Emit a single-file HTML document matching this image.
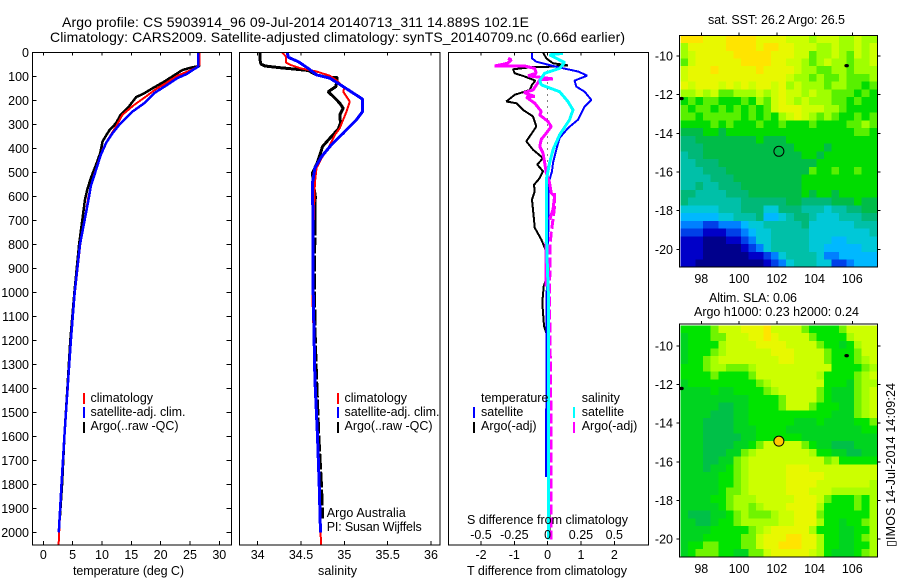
<!DOCTYPE html>
<html>
<head>
<meta charset="utf-8">
<title>Argo profile</title>
<style>
html,body{margin:0;padding:0;background:#fff;}
svg{display:block;}
text{font-family:"Liberation Sans",sans-serif;font-size:12.5px;fill:#000;}
.title{font-size:14px;}
</style>
</head>
<body>
<svg id="chart" xmlns="http://www.w3.org/2000/svg" width="900" height="580" viewBox="0 0 900 580">
<rect x="0" y="0" width="900" height="580" fill="#fff"/>
<text class="title" x="62" y="27" textLength="467">Argo profile: CS 5903914_96 09-Jul-2014 20140713_311 14.889S 102.1E</text>
<text class="title" x="50" y="42" textLength="575">Climatology: CARS2009. Satellite-adjusted climatology: synTS_20140709.nc (0.66d earlier)</text>

<g id="p1"></g>
<g id="p2"></g>
<g id="p3"></g>
<g id="m1"></g>
<g id="m2"></g>

<text x="73" y="575" textLength="111">temperature (deg C)</text>
<text x="318" y="575" textLength="39">salinity</text>
<text x="467" y="575" textLength="160">T difference from climatology</text>
<text x="467" y="524" textLength="161">S difference from climatology</text>

<g>
<rect x="83" y="393" width="2" height="11" fill="#f00"/>
<rect x="83" y="407" width="2" height="11" fill="#00f"/>
<rect x="83" y="422" width="2" height="11" fill="#000"/>
<text x="90.5" y="402">climatology</text>
<text x="90.5" y="416" textLength="95">satellite-adj. clim.</text>
<text x="90.5" y="430" textLength="88">Argo(..raw -QC)</text>
</g>
<g>
<rect x="337" y="393" width="2" height="11" fill="#f00"/>
<rect x="337" y="407" width="2" height="11" fill="#00f"/>
<rect x="337" y="422" width="2" height="11" fill="#000"/>
<text x="344.5" y="402">climatology</text>
<text x="344.5" y="416" textLength="95">satellite-adj. clim.</text>
<text x="344.5" y="430" textLength="88">Argo(..raw -QC)</text>
</g>
<text x="326.7" y="517" textLength="79">Argo Australia</text>
<text x="326.7" y="531" textLength="95">PI: Susan Wijffels</text>
<g>
<text x="481" y="402">temperature</text>
<text x="581.7" y="402">salinity</text>
<rect x="473" y="407" width="2" height="11" fill="#00f"/>
<rect x="473" y="422" width="2" height="11" fill="#000"/>
<rect x="573" y="407" width="2" height="11" fill="#0ff"/>
<rect x="573" y="422" width="2" height="11" fill="#f0f"/>
<text x="481" y="416">satellite</text>
<text x="481" y="430">Argo(-adj)</text>
<text x="581.7" y="416">satellite</text>
<text x="581.7" y="430">Argo(-adj)</text>
</g>
<text x="708" y="24" textLength="137">sat. SST: 26.2 Argo: 26.5</text>
<text x="709" y="302" textLength="88">Altim. SLA: 0.06</text>
<text x="694" y="316" textLength="165">Argo h1000: 0.23 h2000: 0.24</text>
<text transform="translate(895 547) rotate(-90)" x="0" y="0" textLength="164">▯IMOS 14-Jul-2014 14:09:24</text>
</svg>
<script>
// ---------- axis ticks ----------
const depthTicks = [0,100,200,300,400,500,600,700,800,900,1000,1100,1200,1300,1400,1500,1600,1700,1800,1900,2000];
const tempTicks = [0,5,10,15,20,25,30];
const salTicks = [34,34.5,35,35.5,36];
const salTickLabels = ['34','34.5','35','35.5','36'];
const tDiffTicks = [-2,-1,0,1,2];
const sDiffTicks = [-0.5,-0.25,0,0.25,0.5];
const sDiffLabels = ['-0.5','-0.25','0','0.25','0.5'];
const lonTicks = [98,100,102,104,106];
const latTicks = [-10,-12,-14,-16,-18,-20];

// ---------- temperature profiles ----------
const climTempDepth = [0,53,66,78,98,129,154,184,219,260,309,364,406,461,530,600,800,1000,1200,1400,1600,1800,2052];
const climTemp = [26.6,26.6,25.9,24.8,22.8,20.85,19.15,17.5,15.5,13.5,12.4,11,10.1,9.3,8.4,7.7,6.3,5.4,4.7,4.2,3.6,3.1,2.6];
const satTempDepth = [0,60,71,90,108,140,170,212,247,295,337,378,427,489,558,614,800,1000,1200,1400,1600,1800,2000];
const satTemp = [26.4,26.4,25.65,24.5,22.8,20.85,18.9,17.2,15.2,13.2,11.8,10.7,9.8,9,8.1,7.7,6.25,5.35,4.7,4.15,3.6,3.1,2.65];
const argoTempDepth = [0,57,64,74,96,122,146,171,187,226,260,295,327,371,420,468,524,572,613,800,1000,1200,1400,1600,1800,1950];
const argoTemp = [26.6,26.6,25.1,23.7,22.3,20.6,18.9,17.2,15.8,14.6,13.2,12.4,11.2,10.1,9.7,9.0,8.1,7.5,7.1,6.1,5.3,4.6,4.1,3.6,3.2,2.8];

// ---------- salinity profiles ----------
const climSalDepth = [1,18,43,54,68,80,98,122,150,164,205,247,281,316,344,399,441,482,544,669,1000,1400,1700,2052];
const climSal = [34.284,34.326,34.326,34.391,34.507,34.68,34.833,34.929,34.998,34.987,35.063,35.025,34.987,34.948,34.891,34.814,34.737,34.679,34.66,34.649,34.63,34.665,34.7,34.73];
const satSalDepth = [1,21,39,67,94,108,143,170,195,247,281,337,385,434,482,544,600,697,1000,1361,1600,1800,2000];
const satSal = [34.342,34.353,34.468,34.583,34.68,34.833,34.987,35.102,35.209,35.209,35.14,34.987,34.852,34.737,34.66,34.633,34.633,34.641,34.64,34.66,34.69,34.71,34.725];
const argoSalDepth = [1,32,49,57,64,71,76,94,104,105,143,164,184,212,233,261,295,320,358,392,427,461,503,544,600,697];
const argoSal = [34.027,34.027,34.038,34.084,34.257,34.449,34.583,34.68,34.795,34.918,34.902,34.814,34.871,34.948,34.987,34.948,34.956,34.929,34.833,34.749,34.718,34.687,34.633,34.641,34.665,34.66];
const argoSalDeepDepth = [697,1000,1200,1361,1600,1800,1943];
const argoSalDeep = [34.66,34.655,34.665,34.68,34.705,34.735,34.75];

// ---------- difference profiles ----------
const argoTDiffDepth = [1,25,46,54,60,62,71,87,101,118,136,157,177,205,212,240,267,309,344,371,406,441,468,496,524,552,579,614,697,731,780,814,849,918,974,1043,1140,1170,1400,1900,2000];
const argoTDiff = [-0.14,-0.04,0.16,0.61,0.11,-0.49,-1.04,-0.99,-0.69,-0.37,-0.47,-0.54,-0.99,-1.24,-0.94,-0.74,-0.44,-0.34,-0.51,-0.64,-0.44,-0.14,-0.31,-0.14,-0.24,-0.41,-0.39,-0.47,-0.41,-0.39,-0.19,-0.09,0,0.03,-0.12,-0.16,-0.11,-0.04,-0.02,0.05,0.05];
const satTDiffDepth = [1,25,39,62,80,97,118,143,164,198,226,281,316,357,406,461,496,544,697,850,1000,1770];
const satTDiff = [-0.47,-0.47,-0.34,0.31,0.91,1.19,0.81,0.86,1.11,1.31,1.11,0.91,0.61,0.36,0.26,0.16,0.13,0.03,0.03,0,-0.03,-0.05];
const satSDiffDepth = [4,11,25,43,67,87,118,136,164,205,240,281,344,406,461,531,697,850,1000,1500,2030];
const satSDiff = [0.115,0.015,0.065,0.127,0.09,-0.022,-0.06,-0.047,0.09,0.152,0.19,0.165,0.09,0.04,0.015,-0.01,-0.01,-0.005,0.005,0.005,0.005];
const argoSDiffDepth = [25,32,46,57,57,67,87,98,111,115,126,157,168,184,187,212,247,261,288,309,337,362,392,420,461,503,544,586,600,655,697];
const argoSDiff = [-0.297,-0.272,-0.302,-0.397,-0.172,-0.097,-0.085,-0.147,0.04,-0.06,-0.072,-0.11,-0.177,-0.097,-0.16,-0.097,-0.047,-0.06,0.002,0.027,-0.01,-0.047,-0.06,-0.035,-0.022,-0.01,0.015,0.027,0.052,0.04,0.015];
const argoSDeepDepth = [586,641,697,752,807,1084,1278,1600,2030];
const argoSDeep = [0.052,0.052,0.04,0.027,0.017,0.015,0.02,0.027,0.027];
const argoSMidDepth = [790,975];
const argoSMid = [-0.015,-0.015];

// ---------- map grids: 0.4 degree cells, one character per cell (colour level) ----------
const sstRows = [
"eeedddeeeeddddcccbcccbbcbb",
"bdddddeeeedeeddcccbbcbbcbc",
"bcdddddeeeeedddccabbcbacbc",
"acddddddeeeeddccbabcbbabbc",
"cdddedddddeddddcbbaabbabbb",
"cdddddddddddddcbbabaabaaab",
"dcdddcdcdcddcdbcbbbabbaa9a",
"bbcbcaabbbcbcdccbcbbaaa9a9",
"9a9aa999a9bacdcbcbbbaa9a99",
"a9aa9a9a9a9acdddcccbba9999",
"aa9aaaaa9a9a9bcdcbaba99a9a",
"9999a9a999a99a999a9999aaba",
"88899899999999999999999aa9",
"77888888889888999999999999",
"77788888888888899998999999",
"67788888888888889989999999",
"66777888888888888899999999",
"66677788888888888a99a99a99",
"66667778888888889999999999",
"66766777888888889999999999",
"77666677788888889899899999",
"76666666777777887777888988",
"55555666777557776665667788",
"44444556667445677655566677",
"33322333455666667555555666",
"22211122345566666555555556",
"11100011235566666555445555",
"11100000123566666554444455",
"11100000011235666653344444",
"11000000000123566655223444"
];
const slaRows = [
"9999acccdddecccca9999acccc",
"8999aacccddedcccca9999bccc",
"89999bccccddddcccca9989bcc",
"8999abccccccdddcccca999acc",
"899abccccccccddcccca999abc",
"999abbaaabcccccccccc9999ab",
"9999a9999accccccccb9999abc",
"8999999999abccccccc9998abb",
"88889889999abccccca9888abc",
"8888888889999acccca9888abc",
"8888877889999accca99988abc",
"88887778899999999999888abc",
"8887777889999998889888899a",
"88877778889999888888888899",
"88877777889999998888888888",
"8887777889accccca988777888",
"88877788abcccccccb99887788",
"8887788abccccccccccab99999",
"8887889abcccccdddccccccccc",
"8888899abcccccdddddccccccc",
"8888899abcccccddddcccccccb",
"888889aabcccccdddcccbbbbbb",
"888899abbbcccccdddca999a9b",
"888889abbabcccddddb9999a9b",
"8777889abaaabccddda999999b",
"8877899abbbbbccdddb99899ab",
"888899999abcdddddb9998899b",
"88899999aacdddeeddb99889ab",
"899aa999aacddeeeddb998899b",
"89aaa9988aacdddddcb98889ab"
];
const colourLevels = "0123456789abcdef";
const sstColours = ["#00008c","#0000c8","#0040e8","#0080ff","#00b8ff","#00c8d8","#00c0a8","#00b878","#00bc48","#00dc00","#58f000","#a0ff00","#ccff00","#e8f800","#ffe400","#ffb000"];
const slaColours = ["#00008c","#0000c8","#0040e8","#0080ff","#00b8ff","#00c8d8","#00c0a8","#00c048","#00d420","#00e400","#70f400","#a8ff00","#ccff00","#e8f800","#ffe400","#ffb000"];
const argoLon = 102.1;
const argoLat = -14.889;
const islandLon = [105.7, 96.95];
const islandLat = [-10.5, -12.2];

// ---------- helpers ----------
const NS = 'http://www.w3.org/2000/svg';
function mk(tag, parent, name, attrs) {
  const el = document.createElementNS(NS, tag);
  for (const k in attrs) el.setAttribute(k, attrs[k]);
  
  
  parent.appendChild(el);
  return el;
}
function label(parent, name, str, x, y, anchor) {
  const t = mk('text', parent, name, {x: x, y: y, 'text-anchor': anchor});
  t.textContent = str;
  return t;
}
function linear(d0, d1, r0, r1) {
  return function (v) { return r0 + (v - d0) / (d1 - d0) * (r1 - r0); };
}
const TOP = 52.3, BOTTOM = 545;
const depthY = linear(0, 2000, 52.3, 532.3);
const P1 = {l: 32.3, r: 231.3};
const P2 = {l: 239.3, r: 440};
const P3 = {l: 448.3, r: 648.3};
const tempX = linear(0, 30, 43.3, 219.3);
const salX = linear(34, 36, 257.7, 431);
const tDiffX = linear(-2, 2, 481, 614.3);
const sDiffX = linear(-0.5, 0.5, 481, 614.3);

function frame(g, P, top, bottom) {
  mk('rect', g, 'plot-frame', {x: P.l, y: top, width: P.r - P.l, height: bottom - top, fill: 'none', stroke: '#000', 'stroke-width': 1, 'shape-rendering': 'crispEdges'});
}
function tick(g, name, x1, y1, x2, y2) {
  mk('line', g, name, {x1: x1, y1: y1, x2: x2, y2: y2, stroke: '#000', 'stroke-width': 1, 'shape-rendering': 'crispEdges'});
}
function xTicks(g, ticks, labels, sx, labelY) {
  ticks.forEach(function (v, i) {
    const x = sx(v);
    tick(g, 'x-tick', x, BOTTOM, x, BOTTOM - 4);
    tick(g, 'x-tick-top', x, TOP, x, TOP + 3);
    label(g, 'x-tick-label', labels[i], x, labelY, 'middle');
  });
}
function series(g, name, depths, vals, sx, colour, width, dash) {
  let d = '';
  depths.forEach(function (dep, i) {
    d += (i ? 'L' : 'M') + sx(vals[i]).toFixed(1) + ' ' + depthY(dep).toFixed(1);
  });
  const attrs = {d: d, fill: 'none', stroke: colour, 'stroke-width': width, 'stroke-linejoin': 'bevel', 'shape-rendering': 'crispEdges'};
  if (dash) attrs['stroke-dasharray'] = dash;
  mk('path', g, name, attrs);
}

// ---------- panel 1 ----------
const g1 = document.getElementById('p1');
series(g1, 'argo-temperature-line', argoTempDepth, argoTemp, tempX, '#000', 2.5);
series(g1, 'climatology-temperature-line', climTempDepth, climTemp, tempX, '#f00', 2);
series(g1, 'satellite-temperature-line', satTempDepth, satTemp, tempX, '#00f', 2.5);
frame(g1, P1, TOP, BOTTOM);
xTicks(g1, tempTicks, tempTicks.map(String), tempX, 559);
depthTicks.forEach(function (v) {
  const y = depthY(v);
  tick(g1, 'depth-tick-left', P1.l, y, P1.l + 4, y);
  tick(g1, 'depth-tick-right', P1.r, y, P1.r - 5, y);
  label(g1, 'depth-tick-label', String(v), 29, y + 4.5, 'end');
});

// ---------- panel 2 ----------
const g2 = document.getElementById('p2');
series(g2, 'argo-salinity-line', argoSalDepth, argoSal, salX, '#000', 3);
series(g2, 'argo-salinity-deep-line', argoSalDeepDepth, argoSalDeep, salX, '#000', 3, '16 2');
series(g2, 'climatology-salinity-line', climSalDepth, climSal, salX, '#f00', 2);
series(g2, 'satellite-salinity-line', satSalDepth, satSal, salX, '#00f', 3);
frame(g2, P2, TOP, BOTTOM);
xTicks(g2, salTicks, salTickLabels, salX, 559);

// ---------- panel 3 ----------
const g3 = document.getElementById('p3');
mk('line', g3, 'zero-reference-line', {x1: tDiffX(0), y1: TOP, x2: tDiffX(0), y2: BOTTOM, stroke: '#000', 'stroke-width': 1, 'stroke-dasharray': '1 5', 'shape-rendering': 'crispEdges'});
series(g3, 'argo-t-difference-line', argoTDiffDepth, argoTDiff, tDiffX, '#000', 2);
series(g3, 'satellite-t-difference-line', satTDiffDepth, satTDiff, tDiffX, '#00f', 2);
series(g3, 'argo-s-difference-line', argoSDiffDepth, argoSDiff, sDiffX, '#f0f', 3);
series(g3, 'argo-s-difference-deep-line', argoSDeepDepth, argoSDeep, sDiffX, '#f0f', 3, '10 3');
series(g3, 'argo-s-difference-mid-line', argoSMidDepth, argoSMid, sDiffX, '#f0f', 2);
series(g3, 'satellite-s-difference-line', satSDiffDepth, satSDiff, sDiffX, '#0ff', 3);
frame(g3, P3, TOP, BOTTOM);
xTicks(g3, tDiffTicks, tDiffTicks.map(String), tDiffX, 559);
sDiffTicks.forEach(function (v, i) {
  label(g3, 's-difference-tick-label', sDiffLabels[i], sDiffX(v), 539, 'middle');
});

// ---------- maps ----------
const lonX = linear(98, 106, 701.3, 852.3);
const LON0 = 96.9, CELL = 0.4, LAT0 = -8.93;
function drawMap(id, rows, colours, top, bottom, lat10Y, lat20Y, lonLabelY, markerFill) {
  const g = document.getElementById(id);
  const latY = linear(-10, -20, lat10Y, lat20Y);
  rows.forEach(function (row, r) {
    for (let c = 0; c < row.length; c++) {
      const x0 = lonX(LON0 + c * CELL), x1 = lonX(LON0 + (c + 1) * CELL);
      const y0 = latY(LAT0 - r * CELL), y1 = latY(LAT0 - (r + 1) * CELL);
      mk('rect', g, 'map-cell', {x: x0.toFixed(2), y: y0.toFixed(2), width: (x1 - x0 + 0.4).toFixed(2), height: (y1 - y0 + 0.4).toFixed(2), fill: colours[colourLevels.indexOf(row[c])], 'shape-rendering': 'crispEdges'});
    }
  });
  const L = 679.7, R = 877.3;
  mk('rect', g, 'map-frame', {x: L, y: top, width: R - L, height: bottom - top, fill: 'none', stroke: '#000', 'stroke-width': 1, 'shape-rendering': 'crispEdges'});
  lonTicks.forEach(function (v) {
    tick(g, 'lon-tick', lonX(v), top, lonX(v), top - 3);
    label(g, 'lon-tick-label', String(v), lonX(v), lonLabelY, 'middle');
  });
  latTicks.forEach(function (v) {
    tick(g, 'lat-tick-left', L, latY(v), L - 3, latY(v));
    tick(g, 'lat-tick-right', R, latY(v), R + 3, latY(v));
    label(g, 'lat-tick-label', String(v), 673, latY(v) + 4.5, 'end');
  });
  islandLon.forEach(function (v, i) {
    mk('ellipse', g, 'coastline-island', {cx: lonX(v), cy: latY(islandLat[i]), rx: 1.8, ry: 1.2, fill: '#000', stroke: '#000', 'stroke-width': 1});
  });
  mk('circle', g, 'argo-float-marker', {cx: lonX(argoLon) + 0.2, cy: latY(argoLat) + 0.8, r: 5, fill: markerFill, stroke: '#000', 'stroke-width': 1});
}
drawMap('m1', sstRows, sstColours, 35.3, 267, 56, 249.3, 283, 'none');
drawMap('m2', slaRows, slaColours, 324, 557, 346, 539, 573, '#ffc800');
</script>
</body>
</html>
